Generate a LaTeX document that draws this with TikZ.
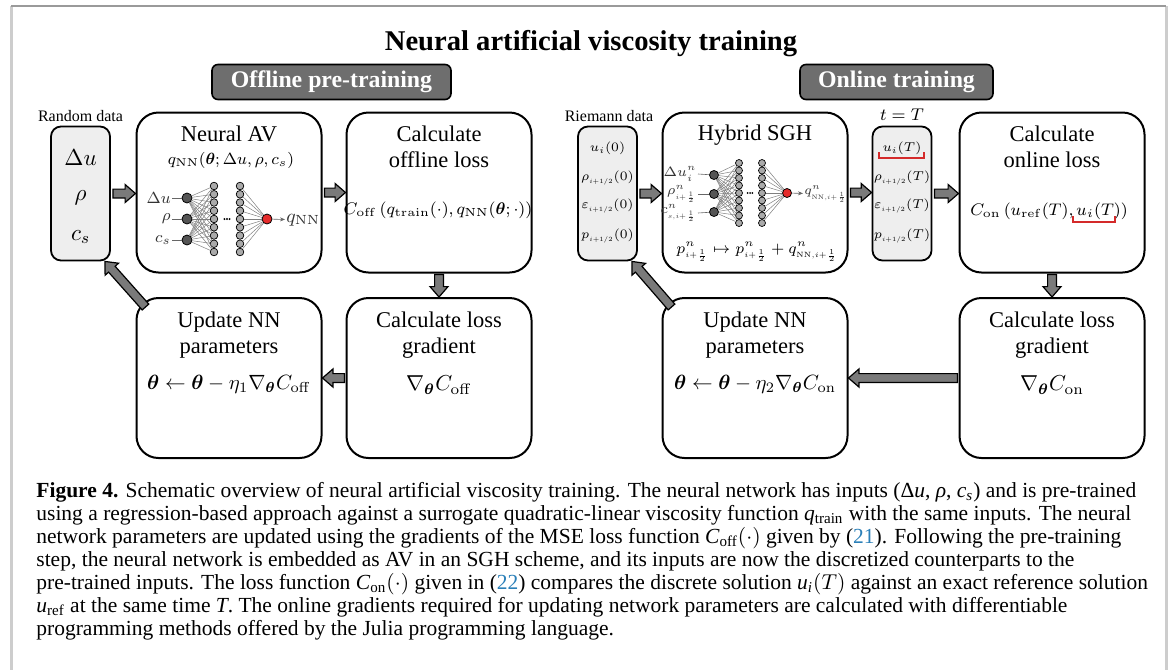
\RequirePackage{fix-cm}
\documentclass[tikz,border=0pt]{standalone}
\usepackage{amsmath,amssymb}
\usepackage[no-math]{fontspec}
\setmainfont{Liberation Serif}
\usetikzlibrary{calc,arrows.meta}

\definecolor{phasegray}{HTML}{6E6E6E}
\definecolor{boxgray}{HTML}{EEEEEE}
\definecolor{arrowgray}{HTML}{7A7A7A}
\definecolor{ingray}{HTML}{555555}
\definecolor{hidgray}{HTML}{AAAAAA}
\definecolor{outred}{HTML}{E52B2B}
\definecolor{wiregray}{HTML}{7F7F7F}
\definecolor{bracketred}{HTML}{D42A2A}
\definecolor{linkblue}{HTML}{2A7FB8}
\definecolor{frametop}{HTML}{9A9A9A}
\definecolor{frameside}{HTML}{CDCDCD}

\newcommand{\titlefont}{\fontsize{14.3}{17}\bfseries\selectfont}
\newcommand{\phasefont}{\fontsize{11.9}{14}\bfseries\selectfont}
\newcommand{\boxfont}{\fontsize{11.25}{13}\selectfont}
\newcommand{\formfont}{\fontsize{10.3}{12}\selectfont}
\newcommand{\datafont}{\fontsize{8}{9.6}\selectfont}
\newcommand{\netfont}{\fontsize{8}{9.6}\selectfont}
\newcommand{\tinyfont}{\fontsize{6.4}{8}\selectfont}
\newcommand{\capfont}{\fontsize{10.75}{11.5}\selectfont}
\newcommand{\half}{{\scriptscriptstyle i+1/2}}
\newcommand{\ihalf}{{\scriptscriptstyle i+\frac12}}

\tikzset{
  stage/.style={draw, line width=1pt, rounded corners=11pt, minimum width=92.5pt, minimum height=80pt, inner sep=0pt},
  databox/.style={draw, line width=0.9pt, fill=boxgray, rounded corners=5pt, minimum width=29.5pt, minimum height=67pt, inner sep=0pt},
  phase/.style={draw, line width=0.8pt, fill=phasegray, rounded corners=3pt, text=white, font=\phasefont, minimum height=17.5pt, inner sep=0pt},
  boxtext/.style={font=\boxfont, align=center, inner sep=0pt},
  formula/.style={font=\formfont, inner sep=0pt},
  entry/.style={font=\tinyfont, inner sep=0pt},
  innode/.style={circle, draw, line width=0.4pt, fill=ingray, minimum size=5pt, inner sep=0pt},
  hidnode/.style={circle, draw, line width=0.35pt, fill=hidgray, minimum size=3.8pt, inner sep=0pt},
  outnode/.style={circle, draw, line width=0.4pt, fill=outred, minimum size=5pt, inner sep=0pt},
  wire/.style={draw=wiregray, line width=0.25pt},
  feed/.style={draw=black!60, line width=0.3pt},
  netlab/.style={font=\netfont, inner sep=0.5pt, text=black!80},
  fatarrow/.style={draw=black, line width=0.6pt, fill=arrowgray, line join=miter},
  underbr/.style={draw=bracketred, line width=0.8pt},
}

% block arrow from one point to another
\newcommand{\fatarrow}[2]{%
  \path let \p1=(#1), \p2=(#2) in
    \pgfextra{%
      \pgfmathsetmacro{\faang}{atan2(\y2-\y1,\x2-\x1)}%
      \pgfmathsetmacro{\falen}{veclen(\x2-\x1,\y2-\y1)}%
      \xdef\faang{\faang}\xdef\falen{\falen}%
      \xdef\fax{\x1}\xdef\fay{\y1}};
  \draw[fatarrow, shift={(\fax,\fay)}, rotate=\faang]
    (0pt,-2.2pt) -- ({(\falen-5.2)*1pt},-2.2pt) -- ({(\falen-5.2)*1pt},-4.5pt)
    -- ({\falen*1pt},0pt) -- ({(\falen-5.2)*1pt},4.5pt) -- ({(\falen-5.2)*1pt},2.2pt)
    -- (0pt,2.2pt) -- cycle;
}

\begin{document}
\begin{tikzpicture}[x=0.5pt, y=-0.5pt]
    \useasboundingbox (0,0) rectangle (1170,670);
    % page frame
    \draw[frameside, line width=1.5pt] (11,6) -- (11,670);
    \draw[frameside, line width=1.5pt] (1166,6) -- (1166,670);
    \draw[frametop, line width=1pt] (11,6) -- (1166,6);

    \node[font=\titlefont, inner sep=0pt] (title) at (591,44) {Neural artificial viscosity training};
    \node[phase, minimum width=119.5pt] (offhead) at (331.5,82) {Offline pre-training};
    \node[phase, minimum width=96.5pt] (onhead) at (896.5,82) {Online training};

    % ---- offline side ----
    \node[font=\datafont, inner sep=0pt] (randlab) at (80.5,116) {Random data};
    \node[databox] (rand) at (80.5,193.5) {};
    \node[font=\fontsize{11.5}{13}\selectfont] (randdu) at (80.5,158) {$\Delta u$};
    \node[font=\fontsize{11.5}{13}\selectfont] (randrho) at (80.5,198) {$\rho$};
    \node[font=\fontsize{11.5}{13}\selectfont] (randcs) at (80.5,237) {$c_s$};

    \node[stage] (nav) at (229,192.5) {};
    \node[boxtext] (navtitle) at (229,134) {Neural AV};
    \node[formula, font=\fontsize{8.1}{10}\selectfont] (navq) at (231,160) {$q_{\mathrm{NN}}(\boldsymbol{\theta};\Delta u,\rho,c_s)$};

    \node[stage] (offloss) at (439,192.5) {};
    \node[boxtext] (offlosstitle) at (439,147) {Calculate\\offline loss};
    \node[formula, font=\fontsize{8.4}{10}\selectfont] (offlossf) at (438,210) {$C_{\mathrm{off}}\left(q_{\mathrm{train}}(\cdot),q_{\mathrm{NN}}(\boldsymbol{\theta};\cdot)\right)$};

    \node[stage] (offgrad) at (439,378) {};
    \node[boxtext] (offgradtitle) at (439,335) {Calculate loss\\gradient};
    \node[formula, font=\fontsize{10.8}{12}\selectfont] (offgradf) at (439,385) {$\nabla_{\boldsymbol{\theta}}C_{\mathrm{off}}$};

    \node[stage] (offupd) at (229,378) {};
    \node[boxtext] (offupdtitle) at (229,335) {Update NN\\parameters};
    \node[formula] (offupdf) at (229,384) {$\boldsymbol{\theta}\leftarrow\boldsymbol{\theta}-\eta_1\nabla_{\boldsymbol{\theta}}C_{\mathrm{off}}$};

    % network inside Neural AV
    \foreach \i/\yy in {1/198,2/219,3/240}
        \node[innode] (ain\i) at (187,\yy) {};
    \foreach \j in {1,...,9} {
        \node[hidnode] (aha\j) at (214,{186+(\j-1)*8.25}) {};
        \node[hidnode] (ahb\j) at (240,{186+(\j-1)*8.25}) {};
    }
    \node[outnode] (aout) at (267,219) {};
    \foreach \i in {1,2,3}
        \foreach \j in {1,...,9}
            \draw[wire] (ain\i) -- (aha\j);
    \foreach \j in {1,...,9}
        \draw[wire] (ahb\j) -- (aout);
    \foreach \k in {-1,0,1}
        \fill ({227+\k*2.6},219) circle (1.1);
    \node[netlab, anchor=east] (alab1) at (172,198) {$\Delta u$};
    \node[netlab, anchor=east] (alab2) at (172,219) {$\rho$};
    \node[netlab, anchor=east] (alab3) at (172,240) {$c_s$};
    \foreach \i in {1,2,3}
        \draw[feed] (alab\i) -- (ain\i);
    \node[netlab, anchor=west, font=\fontsize{9.5}{11}\selectfont] (aq) at (285,220) {$q_{\mathrm{NN}}$};
    \draw[feed, -{Stealth[length=2.5pt,width=2pt]}] (aout) -- (aq);

    % ---- online side ----
    \node[font=\datafont, inner sep=0pt] (riemlab) at (609,116) {Riemann data};
    \node[databox] (riem) at (607.5,193.5) {};
    \node[entry] (riemu) at (607.5,148) {$u_i(0)$};
    \node[entry] (riemrho) at (607.5,178) {$\rho_\half(0)$};
    \node[entry] (riemeps) at (607.5,206) {$\varepsilon_\half(0)$};
    \node[entry] (riemp) at (607.5,236) {$p_\half(0)$};

    \node[stage] (sgh) at (755,192.5) {};
    \node[boxtext] (sghtitle) at (755,135) {Hybrid SGH};
    \node[formula, font=\fontsize{7.6}{9}\selectfont] (sghf) at (757,252) {$p^n_\ihalf\mapsto p^n_\ihalf+q^n_{\scriptscriptstyle\mathrm{NN},i+\frac12}$};

    \node[font=\fontsize{8.5}{10}\selectfont, inner sep=0pt] (tlab) at (902,115) {$t=T$};
    \node[databox] (final) at (902,193.5) {};
    \node[entry] (finu) at (902,148) {$u_i(T)$};
    \node[entry] (finrho) at (902,178) {$\rho_\half(T)$};
    \node[entry] (fineps) at (902,206) {$\varepsilon_\half(T)$};
    \node[entry] (finp) at (902,236) {$p_\half(T)$};

    \node[stage] (onloss) at (1052,192.5) {};
    \node[boxtext] (onlosstitle) at (1052,147) {Calculate\\online loss};
    \node[formula, font=\fontsize{8.4}{10}\selectfont] (onlossf) at (1049,211) {$C_{\mathrm{on}}\left(u_{\mathrm{ref}}(T),u_i(T)\right)$};

    \node[stage] (ongrad) at (1052,378) {};
    \node[boxtext] (ongradtitle) at (1052,335) {Calculate loss\\gradient};
    \node[formula, font=\fontsize{10.8}{12}\selectfont] (ongradf) at (1052,385) {$\nabla_{\boldsymbol{\theta}}C_{\mathrm{on}}$};

    \node[stage] (onupd) at (755,378) {};
    \node[boxtext] (onupdtitle) at (755,335) {Update NN\\parameters};
    \node[formula] (onupdf) at (755,384) {$\boldsymbol{\theta}\leftarrow\boldsymbol{\theta}-\eta_2\nabla_{\boldsymbol{\theta}}C_{\mathrm{on}}$};

    % network inside Hybrid SGH
    \foreach \i/\yy in {1/175,2/194,3/212}
        \node[innode, minimum size=4.5pt] (bin\i) at (714,\yy) {};
    \foreach \j in {1,...,9} {
        \node[hidnode, minimum size=3.5pt] (bha\j) at (739,{163+(\j-1)*7.5}) {};
        \node[hidnode, minimum size=3.5pt] (bhb\j) at (762,{163+(\j-1)*7.5}) {};
    }
    \node[outnode, minimum size=4.5pt] (bout) at (787,193) {};
    \foreach \i in {1,2,3}
        \foreach \j in {1,...,9}
            \draw[wire] (bin\i) -- (bha\j);
    \foreach \j in {1,...,9}
        \draw[wire] (bhb\j) -- (bout);
    \foreach \k in {-1,0,1}
        \fill ({750+\k*2.4},193) circle (1);
    \node[netlab, anchor=east, inner sep=0pt, font=\fontsize{6.8}{8}\selectfont] (blab1) at (697,174) {$\Delta u_i^n$};
    \node[netlab, anchor=east, inner sep=0pt, font=\fontsize{6.8}{8}\selectfont] (blab2) at (697,194) {$\rho^n_\ihalf$};
    \node[netlab, anchor=east, inner sep=0pt, font=\fontsize{6.8}{8}\selectfont] (blab3) at (697,213) {$c^n_{\scriptscriptstyle s,i+\frac12}$};
    \foreach \i in {1,2,3}
        \draw[feed] ([xshift=0.5pt]blab\i.east) -- (bin\i);
    \node[netlab, anchor=west, font=\fontsize{6.4}{7}\selectfont] (bq) at (803,194) {$q^n_{\scriptscriptstyle\mathrm{NN},i+\frac12}$};
    \draw[feed, -{Stealth[length=2.5pt,width=2pt]}] (bout) -- (bq);

    % red marks on u_i(T)
    \draw[underbr] (879,152) -- (879,158) -- (924,158) -- (924,152);
    \draw[underbr] (1073,216) -- (1073,222) -- (1115,222) -- (1115,216);

    % block arrows
    \fatarrow{[xshift=1pt]rand.east}{rand.east -| nav.west}
    \fatarrow{[xshift=1pt]nav.east}{offloss.west}
    \fatarrow{[yshift=-0.5pt]offloss.south}{offgrad.north}
    \fatarrow{[xshift=-0.5pt]offgrad.west}{offupd.east}
    \fatarrow{[shift={(5pt,-5pt)}]offupd.north west}{[xshift=-3pt]rand.south east}
    \fatarrow{[xshift=1pt]riem.east}{riem.east -| sgh.west}
    \fatarrow{[xshift=1pt]sgh.east}{sgh.east -| final.west}
    \fatarrow{[xshift=1pt]final.east}{final.east -| onloss.west}
    \fatarrow{[yshift=-0.5pt]onloss.south}{ongrad.north}
    \fatarrow{[xshift=-0.5pt]ongrad.west}{onupd.east}
    \fatarrow{[shift={(5pt,-5pt)}]onupd.north west}{[xshift=-3pt]riem.south east}

    % caption
    \node[anchor=base west, align=left, font=\capfont, inner sep=0pt] (caption) at (36,635) {%
        \textbf{Figure 4.} Schematic overview of neural artificial viscosity training. The neural network has inputs (Δ\textit{u}, \textit{ρ}, \textit{c\textsubscript{s}}) and is pre-trained\\
        using a regression-based approach against a surrogate quadratic-linear viscosity function \textit{q}\textsubscript{train} with the same inputs. The neural\\
        network parameters are updated using the gradients of the MSE loss function \textit{C}\textsubscript{off}$(\cdot)$ given by (\textcolor{linkblue}{21}). Following the pre-training\\
        step, the neural network is embedded as AV in an SGH scheme, and its inputs are now the discretized counterparts to the\\
        pre-trained inputs. The loss function \textit{C}\textsubscript{on}$(\cdot)$ given in (\textcolor{linkblue}{22}) compares the discrete solution \textit{u\textsubscript{i}}$(T)$ against an exact reference solution\\
        \textit{u}\textsubscript{ref} at the same time \textit{T}. The online gradients required for updating network parameters are calculated with differentiable\\
        programming methods offered by the Julia programming language.};
\end{tikzpicture}
\end{document}
